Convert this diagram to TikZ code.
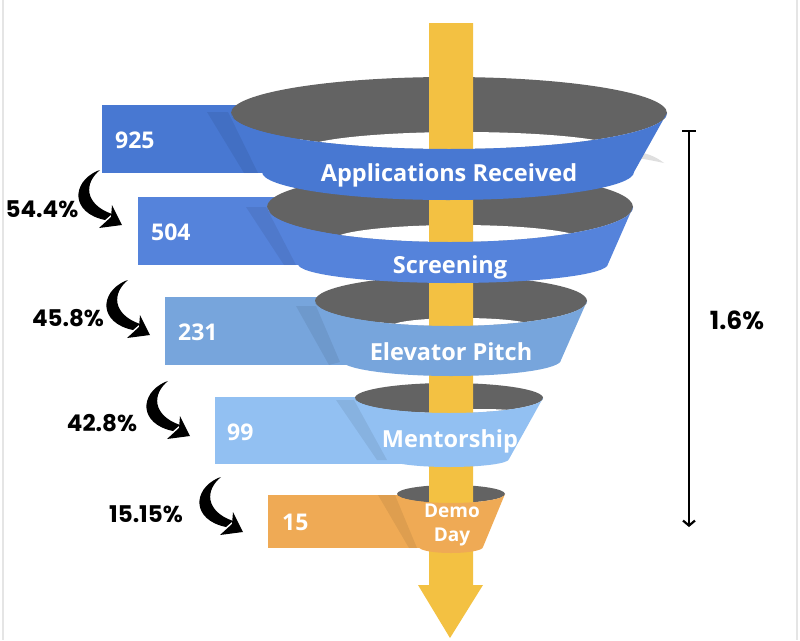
\documentclass[tikz,border=0pt]{standalone}
\usepackage{fontspec}
\setmainfont{Open Sans}
\newfontfamily\popfont{Poppins}
\usetikzlibrary{arrows.meta}
\definecolor{cA}{HTML}{4878D2}
\definecolor{cB}{HTML}{5583DB}
\definecolor{cC}{HTML}{77A5DC}
\definecolor{cD}{HTML}{92C0F2}
\definecolor{cE}{HTML}{EFAA55}
\definecolor{rim}{HTML}{636363}
\definecolor{gold}{HTML}{F3C142}
\tikzset{
  lbl/.style={text=white, font=\bfseries\fontsize{23.5}{27}\selectfont, inner sep=0pt},
  numlbl/.style={text=white, font=\bfseries\fontsize{23}{27}\selectfont, inner sep=0pt, anchor=west},
  pct/.style={text=black, font=\popfont\bfseries\fontsize{23}{27}\selectfont, inner sep=0pt},
  shade/.style={fill=black, fill opacity=0.07},
  swoosh/.pic={
    \fill[black] (0,0) .. controls (-26,12) and (-26,42) .. (8,49) -- (15,43) .. controls (-13,33) and (-13,12) .. (3,-1) -- cycle;
    \fill[black] (25,54) -- (2,57) -- (14,46) -- (15,34) -- cycle;
  }
}
\begin{document}
\begin{tikzpicture}[x=1pt,y=-1pt]
\useasboundingbox (0,0) rectangle (800,640);
\fill[white] (0,0) rectangle (800,640);
\draw[gray!20, line width=1.5] (3,0) -- (3,640);
\draw[gray!20, line width=1.5] (797,0) -- (797,640);

% left boxes
\fill[cA] (102,105) rectangle (300,173);
\fill[shade] (207,112) -- (228,112) -- (258,173) -- (244,173) -- cycle;
\fill[cB] (138,197) rectangle (340,265);
\fill[shade] (246,207) -- (266,207) -- (296,265) -- (284,265) -- cycle;
\fill[cC] (165,297) rectangle (380,365);
\fill[shade] (296,306) -- (316,306) -- (340,362) -- (329,365) -- cycle;
\fill[cD] (215,397) rectangle (420,464);
\fill[shade] (336,400) -- (354,400) -- (387,460) -- (377,460) -- cycle;
\fill[cE] (268,495) rectangle (440,548);
\fill[shade] (378,495) -- (395,495) -- (417,548) -- (409,548) -- cycle;

% faint shadow at right of first ring
\fill[gray!25] (626,150) .. controls (645,152) and (655,156) .. (664,163) .. controls (650,160) and (640,158) .. (626,157) -- cycle;

% rims (inside of funnel)
\fill[rim] (449,113) ellipse [x radius=218, y radius=36];
\begin{scope}\clip (449,113) ellipse [x radius=218, y radius=36];
  \fill[white] (462,150) ellipse [x radius=160, y radius=18];\end{scope}
\fill[rim] (450,207) ellipse [x radius=183, y radius=35];
\begin{scope}\clip (450,207) ellipse [x radius=183, y radius=35];
  \fill[white] (458,240) ellipse [x radius=125, y radius=15];\end{scope}
\fill[rim] (451,301) ellipse [x radius=136, y radius=25];
\begin{scope}\clip (451,301) ellipse [x radius=136, y radius=25];
  \fill[white] (462,326) ellipse [x radius=70, y radius=8];\end{scope}
\fill[rim] (449,398) ellipse [x radius=94, y radius=15];
\begin{scope}\clip (449,398) ellipse [x radius=94, y radius=15];
  \fill[white] (482,414) ellipse [x radius=45, y radius=5];\end{scope}
\fill[rim] (451,494) ellipse [x radius=54, y radius=9];

% yellow arrow
\fill[gold] (429,23) -- (473,23) -- (473,585) -- (483,585) -- (450,638) -- (418,585) -- (429,585) -- cycle;

% front bands
\fill[cE] (397,494) -- (419,547) arc[start angle=180,end angle=0,x radius=32,y radius=6] -- (505,494) arc[start angle=0,end angle=180,x radius=54,y radius=9] -- cycle;
\fill[cD] (355,398) -- (389,459) arc[start angle=180,end angle=0,x radius=60,y radius=8] -- (543,398) arc[start angle=0,end angle=180,x radius=94,y radius=15] -- cycle;
\fill[cC] (315,301) -- (341,360) arc[start angle=180,end angle=0,x radius=110,y radius=16] -- (587,301) arc[start angle=0,end angle=180,x radius=136,y radius=25] -- cycle;
\fill[cB] (267,207) -- (298,264) arc[start angle=180,end angle=0,x radius=155,y radius=19] -- (633,207) arc[start angle=0,end angle=180,x radius=183,y radius=35] -- cycle;
\fill[cA] (231,113) -- (262,172) arc[start angle=180,end angle=0,x radius=186,y radius=28] -- (667,113) arc[start angle=0,end angle=180,x radius=218,y radius=36] -- cycle;

% stage labels
\node[lbl] (s1) at (449,175) {Applications Received};
\node[lbl] (s2) at (450,267) {Screening};
\node[lbl] (s3) at (451,352) {Elevator Pitch};
\node[lbl] (s4) at (450,441) {Mentorship};
\node[lbl, font=\bfseries\fontsize{19}{24.5}\selectfont, align=center] (s5) at (452,525) {Demo\\Day};

% counts
\node[numlbl] (n1) at (115,140) {925};
\node[numlbl] (n2) at (151,232) {504};
\node[numlbl] (n3) at (178,332) {231};
\node[numlbl] (n4) at (227,432) {99};
\node[numlbl] (n5) at (282,522) {15};

% conversion rates
\node[pct] (p1) at (42,209) {54.4\%};
\node[pct] (p2) at (68,318) {45.8\%};
\node[pct] (p3) at (102,423) {42.8\%};
\node[pct] (p4) at (146,514) {15.15\%};
\pic at (97,171) {swoosh};
\pic at (125,281) {swoosh};
\pic at (165,382) {swoosh};
\pic at (218,478) {swoosh};

% overall
\coordinate (btop) at (689,130);
\coordinate (bbot) at (689,527);
\draw[line width=2.2pt, {Bar[width=14pt]}-{Straight Barb[length=5pt,width=12pt]}] (btop) -- (bbot);
\node[pct, font=\popfont\bfseries\fontsize{25}{29}\selectfont] (tot) at (737,320) {1.6\%};
\end{tikzpicture}
\end{document}
